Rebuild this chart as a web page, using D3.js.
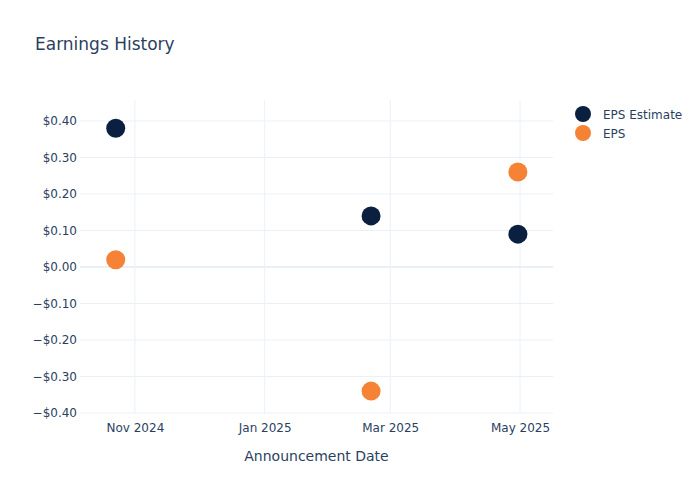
<!DOCTYPE html>
<html>
<head>
<meta charset="utf-8">
<script src="https://cdn.jsdelivr.net/npm/d3@7"></script>
<style>
  body { margin: 0; background: #fff; }
  svg { font-family: "DejaVu Sans", sans-serif; }
</style>
</head>
<body>
<svg width="700" height="500"></svg>
<script>
// data
var dates = ['2024-10-23', '2025-02-20', '2025-04-30'];
var epsEstimate = [0.38, 0.14, 0.09];
var eps = [0.02, -0.34, 0.26];
var seriesNames = ['EPS Estimate', 'EPS'];
var seriesColors = ['#0b1f41', '#f58235'];
var yTicks = [-0.4, -0.3, -0.2, -0.1, 0, 0.1, 0.2, 0.3, 0.4];
var xTicks = ['2024-11-01', '2025-01-01', '2025-03-01', '2025-05-01'];

var parse = d3.utcParse('%Y-%m-%d');
var textColor = '#2a3f5f';
var gridColor = '#ebf0f8';

var svg = d3.select('svg');
// plot box (note: "top" is taken by window.top)
var plotL = 80, plotR = 553, plotT = 100, plotB = 413;

var x = d3.scaleUtc()
    .domain([new Date(Date.UTC(2024, 9, 6, 5)), new Date(Date.UTC(2025, 4, 16, 12))])
    .range([plotL, plotR]);
var y = d3.scaleLinear()
    .domain([-0.4, 0.4575])
    .range([plotB, plotT]);

// grid
svg.append('g').selectAll('line').data(xTicks).enter().append('line')
    .attr('x1', d => x(parse(d))).attr('x2', d => x(parse(d)))
    .attr('y1', plotT).attr('y2', plotB)
    .attr('stroke', gridColor).attr('stroke-width', 1);
svg.append('g').selectAll('line').data(yTicks).enter().append('line')
    .attr('x1', plotL).attr('x2', plotR)
    .attr('y1', d => y(d)).attr('y2', d => y(d))
    .attr('stroke', gridColor).attr('stroke-width', d => d === 0 ? 2 : 1);

// axes via d3
var fmt = d => (d < 0 ? '\u2212' : '') + '$' + Math.abs(d).toFixed(2);
var yAxis = svg.append('g')
    .attr('transform', `translate(${plotL},0)`)
    .call(d3.axisLeft(y).tickValues(yTicks).tickFormat(fmt).tickSize(0).tickPadding(3));
var xAxis = svg.append('g')
    .attr('transform', `translate(0,${plotB})`)
    .call(d3.axisBottom(x).tickValues(xTicks.map(parse)).tickFormat(d3.utcFormat('%b %Y')).tickSize(0).tickPadding(10));
[yAxis, xAxis].forEach(a => {
    a.select('.domain').remove();
    a.selectAll('text').attr('fill', textColor).style('font-size', '12px')
        .style('font-family', '"DejaVu Sans", sans-serif');
});

// points
var seriesData = [epsEstimate, eps];
seriesData.forEach((vals, s) => {
    svg.append('g').selectAll('circle')
        .data(vals.map((v, i) => ({date: parse(dates[i]), v: v})))
        .enter().append('circle')
        .attr('cx', d => x(d.date))
        .attr('cy', d => y(d.v))
        .attr('r', 9.5)
        .attr('fill', seriesColors[s]);
});

// title
svg.append('text').attr('x', 35).attr('y', 50)
    .attr('fill', textColor).style('font-size', '17px')
    .text('Earnings History');

// x axis title
svg.append('text').attr('x', (plotL + plotR) / 2).attr('y', 461)
    .attr('text-anchor', 'middle').attr('fill', textColor).style('font-size', '14px')
    .text('Announcement Date');

// legend
var lg = svg.append('g').selectAll('g').data(seriesNames).enter().append('g')
    .attr('transform', (d, i) => `translate(583,${114 + i * 19})`);
lg.append('circle').attr('r', 8).attr('fill', (d, i) => seriesColors[i]);
lg.append('text').attr('x', 20).attr('y', 4.5)
    .attr('fill', textColor).style('font-size', '12px')
    .text(d => d);
</script>
</body>
</html>
